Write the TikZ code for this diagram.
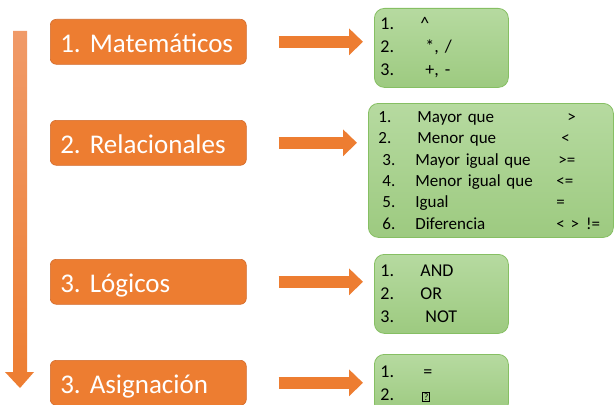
\documentclass[tikz,border=0pt]{standalone}
\usepackage{fontspec}
\setmainfont{Carlito}
\frenchspacing
\usetikzlibrary{arrows.meta}
\definecolor{catorange}{HTML}{ED7D31}
\definecolor{catedge}{HTML}{D2692A}
\definecolor{linetop}{HTML}{F09A68}
\definecolor{listtop}{HTML}{B6DAA0}
\definecolor{listbot}{HTML}{9DCA80}
\definecolor{listedge}{HTML}{86BF63}
\begin{document}
\begin{tikzpicture}[x=1pt, y=-1pt,
  cat node/.style={rectangle, rounded corners=6pt, fill=catorange, draw=catedge, line width=.6pt, anchor=north west, minimum width=196pt, minimum height=45pt, inner xsep=10pt, text width=176pt, align=left, text height=21pt, text depth=0pt, text=white, font=\fontsize{27}{30}\selectfont},
  list node/.style={rectangle, rounded corners=10pt, top color=listtop, bottom color=listbot, draw=listedge, line width=.8pt, anchor=north west, inner xsep=6pt, text width=122pt, minimum height=79pt, align=left, font=\fontsize{18}{23}\selectfont},
  block arrow/.style={draw=catorange, line width=12pt, -{Triangle[width=26pt,length=14pt]}, shorten <=32pt, shorten >=11pt}]
\clip (0,0) rectangle (615,404);
% timeline arrow
\shade [top color=linetop, bottom color=catorange] (13,31) -- (27,31) -- (27,372) -- (34,372) -- (20,388) -- (5,372) -- (13,372) -- cycle;
% operator families
\node [cat node](mat) at (50,19) {1. Matemáticos};
\node [cat node](rel) at (50,120) {2. Relacionales};
\node [cat node](log) at (50,259) {3. Lógicos};
\node [cat node](asig) at (50,360) {3. Asignación};
% operator lists
\node [list node](matops) at (374,8) {\makebox[40pt][l]{1.}\textasciicircum\\
\makebox[45pt][l]{2.}*, /\\
\makebox[45pt][l]{3.}+, -};
\node [list node, text width=225pt, minimum height=134pt, inner xsep=10pt, font=\fontsize{17}{21.3}\selectfont](relops) at (368,103) {\makebox[39pt][l]{1.}\makebox[150pt][l]{Mayor que}>\\
\makebox[39pt][l]{2.}\makebox[144pt][l]{Menor que}<\\
\hspace*{4pt}\makebox[33pt][l]{3.}\makebox[143pt][l]{Mayor igual que}>=\\
\hspace*{4pt}\makebox[33pt][l]{4.}\makebox[141pt][l]{Menor igual que}<=\\
\hspace*{4pt}\makebox[33pt][l]{5.}\makebox[141pt][l]{Igual}=\\
\hspace*{4pt}\makebox[33pt][l]{6.}\makebox[141pt][l]{Diferencia}< >\hspace{7pt}!=};
\node [list node](logops) at (374,254) {\makebox[40pt][l]{1.}AND\\
\makebox[40pt][l]{2.}OR\\
\makebox[45pt][l]{3.}NOT};
\node [list node, minimum height=59pt](asigops) at (374,354) {\makebox[43pt][l]{1.}=\\
\makebox[42pt][l]{2.}{\setlength{\fboxsep}{.8pt}\setlength{\fboxrule}{.6pt}\fbox{\fontsize{10}{10}\selectfont ?}}};
% arrows
\draw [block arrow] (mat.east) -- (mat.east -| matops.west);
\draw [block arrow] (rel.east) -- (rel.east -| relops.west);
\draw [block arrow] (log.east) -- (log.east -| logops.west);
\draw [block arrow] (asig.east) -- (asig.east -| asigops.west);
\end{tikzpicture}
\end{document}
